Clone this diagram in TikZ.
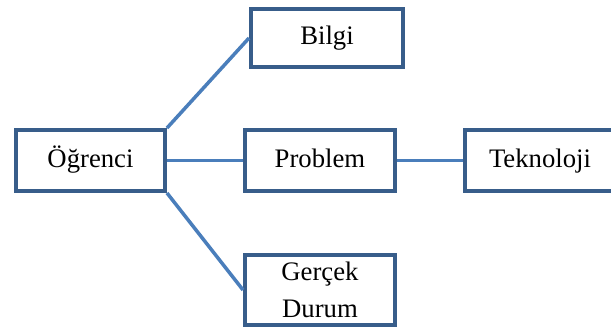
\documentclass[tikz,border=0pt]{standalone}
\usepackage{fontspec}
\setmainfont{Liberation Serif}
\usetikzlibrary{positioning}
\definecolor{boxline}{RGB}{56, 93, 138}
\definecolor{linkline}{RGB}{74, 126, 187}

\begin{document}
\begin{tikzpicture}[
            box/.style={rectangle, draw=boxline, line width=2.8pt, fill=white, minimum width=3.75cm, minimum height=1.525cm, align=center, text height=14pt, text depth=4.2pt, font=\fontsize{19}{26}\selectfont},
            link/.style={draw=linkline, line width=2.5pt}
        ]
            \useasboundingbox (0,0) rectangle (15.275,8.275);

            % OGRENCI
            \node[box, minimum width=3.725cm] (ogrenci) at (2.2625,4.2625) {Öğrenci};

            % BILGI
            \node[box, minimum width=3.8cm, minimum height=1.45cm] (bilgi) at (8.175,7.325) {Bilgi};

            % PROBLEM
            \node[box] (problem) at (8.0,4.2625) {Problem};

            % TEKNOLOJI
            \node[box] (teknoloji) at (13.5,4.2625) {Teknoloji};

            % GERCEK DURUM
            \node[box, minimum height=1.75cm, text height=, text depth=] (gercek) at (8.0,1.025) {Gerçek\\Durum};

            % Links
            \draw[link] (ogrenci.north east) -- (bilgi.west);
            \draw[link] (ogrenci.east) -- (problem.west);
            \draw[link] (ogrenci.south east) -- (gercek.west);
            \draw[link] (problem.east) -- (teknoloji.west);
        \end{tikzpicture}
\end{document}
